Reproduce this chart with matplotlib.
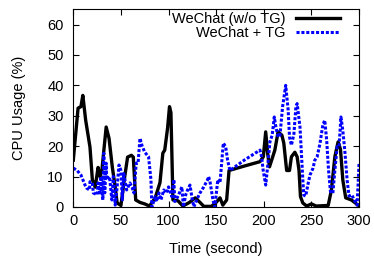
import matplotlib
matplotlib.use("Agg")
import matplotlib.pyplot as plt

plt.rcParams['font.family'] = ['Liberation Sans', 'DejaVu Sans']

# CPU usage without the tool (black solid)
t_plain = [0, 5, 8, 10, 13, 17.5, 20, 23, 26, 28, 30, 34.5, 37.5, 41, 44, 46, 50,
           54, 57, 61, 63, 65.5, 70, 75, 80, 86, 91, 94, 96, 99, 101, 102.5, 104.6,
           110, 115, 122, 128, 133, 137, 145, 150, 154, 157, 161, 163.5, 180, 196,
           199.5, 202, 204, 206, 211.6, 215, 219, 221, 224, 227, 229, 232.6, 235,
           237, 238.5, 241, 245, 250, 255, 267.6, 271, 274.6, 278, 280.5, 283, 286,
           292, 299]
cpu_plain = [15.4, 32.5, 33, 36.7, 28.5, 19.7, 9, 6.5, 13, 10, 12, 26.3, 22.6, 13,
             6.5, 1.3, 0.5, 10, 16.4, 17, 16.4, 2.3, 1.5, 1.0, 0.3, 3, 8, 17.7,
             18.7, 26, 33, 31, 2.3, 2, 0.3, 1.5, 3, 1.5, 0.2, 0.2, 1.5, 3, 0.6, 2.3,
             12, 13.5, 14.9, 16.5, 24.7, 17.7, 13.2, 18.7, 24.7, 23.6, 21, 12, 12,
             16.5, 18, 16.5, 12, 3.4, 1.3, 0.3, 1, 0.3, 0.5, 5.6, 16.5, 21.4, 19,
             8.8, 3, 2.3, 0.6]

# CPU usage with the tool (blue dotted)
t_tg = [0, 4, 8, 10, 12.3, 14, 17, 17.5, 20, 21, 25, 26, 28, 29, 31, 32, 33, 34.5,
        35, 38, 40.5, 42, 44, 46, 48, 50, 51.5, 53, 56, 59.5, 61.5, 63.7, 66, 68,
        70, 72, 75, 79, 81.5, 82.5, 86, 87.5, 90, 92, 95, 98, 100, 103.5, 105.6,
        106.5, 109, 112, 114, 115.6, 118, 120, 122.5, 124.6, 126.6, 129.5, 133,
        137, 141, 142, 143.5, 146.6, 148.6, 151.7, 154, 157.5, 160, 162, 164.4,
        180, 196, 197.7, 199.4, 202, 204, 206.4, 208.8, 211, 212.7, 215, 217,
        219.7, 223, 225.6, 227, 229, 231.6, 233.7, 235, 238, 241, 242, 244,
        246.6, 248.5, 251.6, 253.6, 256, 259, 262, 264, 266, 268, 270, 272.5,
        274.6, 277, 279, 281, 283, 285, 287.5, 289.5, 292.5, 295, 298, 300]
cpu_tg = [12.8, 12, 10.5, 9, 7.2, 6.2, 5.6, 8.3, 8, 4.6, 4, 7.9, 4.6, 10, 2.3, 17.7,
          4.6, 14.4, 9, 10, 2.3, 10, 0.6, 6.6, 13.8, 12, 2.3, 11, 5.6, 7.9, 6.6,
          4.6, 14.4, 14.4, 22.6, 20.3, 18, 16.5, 9, 0, 3.4, 1.8, 4.6, 2.3, 5.6,
          4.6, 6.6, 3.4, 9, 1.8, 3, 5, 6.6, 0, 4, 5.6, 7.2, 3, 0, 2.3, 4.6, 6.6,
          9, 10, 8.4, 2.3, 0, 9, 7.9, 21, 19.8, 15.4, 12, 15.5, 18.7, 16.5, 12,
          7.2, 13.2, 21.4, 23.6, 29.6, 26.3, 23, 23.6, 32.9, 40, 31.8, 23, 20.3,
          24, 32.9, 34, 26.3, 8.8, 3.9, 3.6, 7.8, 10.5, 12.7, 15.4, 16.5, 20.9,
          27, 28.5, 22, 12, 5, 4.5, 12, 19.8, 19.8, 29.6, 25, 18.7, 8.8, 3.6, 3.9,
          2.3, 0.6, 14.3]

fig = plt.figure(figsize=(3.74, 2.6), dpi=100)
ax = fig.add_axes([0.196, 0.204, 0.764, 0.760])

ax.plot(t_plain, cpu_plain, color='black', linewidth=2.4, label='WeChat (w/o TG)')
ax.plot(t_tg, cpu_tg, color='#0000ff', linewidth=2.2, linestyle=(0, (1, 0.6)),
        label='WeChat + TG')

ax.set_xlim(0, 300)
ax.set_ylim(0, 65)
ax.set_xticks([0, 50, 100, 150, 200, 250, 300])
ax.set_yticks([0, 10, 20, 30, 40, 50, 60])
ax.tick_params(direction='in', top=True, right=True, labelsize=10.5, length=4)
ax.tick_params(axis='x', pad=5)
ax.tick_params(axis='y', pad=7)
ax.set_xlabel('Time (second)', fontsize=10.5, labelpad=10)
ax.set_ylabel('CPU Usage (%)', fontsize=10.5, labelpad=15)

ax.legend(loc='upper right', bbox_to_anchor=(0.933, 0.985), frameon=False,
          markerfirst=False, fontsize=10.5, handlelength=3.0, handletextpad=0.7,
          labelspacing=0.0, borderaxespad=0, borderpad=0)

fig.savefig('out.png', dpi=100)
